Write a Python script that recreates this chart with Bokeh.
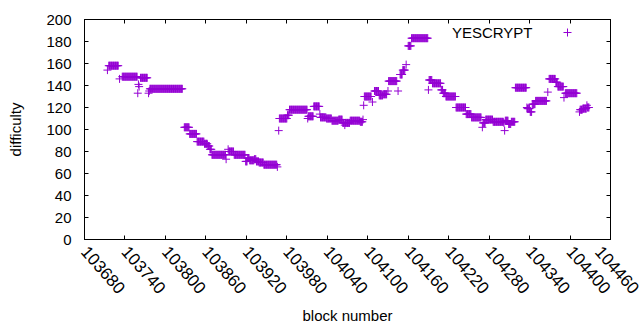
from bokeh.plotting import figure
from bokeh.models import (FixedTicker, LinearAxis, Legend, LegendItem, Label,
                          BasicTickFormatter)
from bokeh.embed import file_html
from bokeh.resources import INLINE

# Runs of consecutive blocks with the same difficulty: start block, end block, value
seg_start = [103714, 103716, 103732, 103736, 103759, 103760, 103761, 103763, 103775, 103776,
             103777, 103828, 103836, 103847, 103858, 103863, 103866, 103869, 103890, 103893,
             103894, 103902, 103919, 103922, 103925, 103932, 103935, 103939, 103946, 103966,
             103968, 103969, 103981, 103984, 104011, 104012, 104020, 104029, 104030, 104039,
             104047, 104057, 104063, 104066, 104067, 104074, 104089, 104093, 104094, 104095,
             104107, 104110, 104117, 104123, 104130, 104131, 104145, 104148, 104152, 104157,
             104160, 104165, 104190, 104191, 104196, 104209, 104212, 104216, 104231, 104246,
             104254, 104270, 104271, 104275, 104286, 104302, 104303, 104304, 104309, 104313,
             104319, 104336, 104337, 104341, 104344, 104349, 104367, 104369, 104379, 104382,
             104391, 104393, 104414, 104415, 104419, 104425, 104426]
seg_end = [103714, 103730, 103732, 103758, 103759, 103760, 103761, 103773, 103775, 103776,
           103825, 103835, 103846, 103857, 103862, 103865, 103868, 103889, 103890, 103893,
           103901, 103918, 103921, 103924, 103931, 103934, 103938, 103945, 103965, 103966,
           103968, 103980, 103983, 104010, 104011, 104019, 104028, 104029, 104038, 104046,
           104056, 104062, 104065, 104066, 104073, 104088, 104092, 104093, 104094, 104105,
           104107, 104116, 104122, 104128, 104130, 104143, 104145, 104151, 104155, 104157,
           104164, 104189, 104190, 104195, 104208, 104211, 104215, 104230, 104245, 104253,
           104268, 104270, 104274, 104285, 104301, 104302, 104303, 104308, 104312, 104318,
           104335, 104336, 104340, 104343, 104348, 104365, 104367, 104378, 104381, 104390,
           104391, 104410, 104414, 104418, 104424, 104425, 104428]
seg_value = [154, 158, 146, 148, 133, 141, 139, 147, 133, 135,
             137, 102, 96, 89, 87, 85, 82, 77, 73, 82,
             80, 77, 71, 74, 72, 73, 71, 70, 68, 66,
             99, 110, 113, 118, 110, 112, 121, 114, 111, 110,
             108, 109, 106, 104, 106, 108, 107, 109, 122, 130,
             125, 135, 131, 132, 135, 144, 135, 150, 154, 159,
             176, 183, 136, 145, 142, 136, 133, 130, 120, 114,
             111, 102, 106, 109, 107, 106, 99, 108, 105, 107,
             138, 120, 119, 116, 123, 126, 134, 146, 143, 139,
             129, 133, 116, 118, 119, 122, 120]

x_ticks = [103680, 103740, 103800, 103860, 103920, 103980, 104040, 104100,
           104160, 104220, 104280, 104340, 104400, 104460]
y_ticks = [0, 20, 40, 60, 80, 100, 120, 140, 160, 180, 200]
series_name = "YESCRYPT"

blocks, diffs = [], []
for s, e, v in zip(seg_start, seg_end, seg_value):
    for b in range(s, e + 1):
        blocks.append(b)
        diffs.append(v)

FONT = "Liberation Sans"
FS = "15px"
COLOR = "#9400D3"

p = figure(width=640, height=330, x_range=(103680, 104460), y_range=(0, 200),
           output_backend="svg", toolbar_location=None,
           min_border_left=84, min_border_right=30, min_border_top=19,
           min_border_bottom=91)
p.xgrid.visible = False
p.ygrid.visible = False
p.outline_line_color = "black"
p.outline_line_width = 1
p.background_fill_color = "white"
p.border_fill_color = "white"

r = p.scatter(blocks, diffs, marker="cross", size=8, line_color=COLOR,
              line_width=1)

for ax in (p.xaxis[0], p.yaxis[0]):
    ax.major_tick_in = 4
    ax.major_tick_out = 0
    ax.minor_tick_line_color = None
    ax.axis_line_color = "black"
    ax.major_label_text_font = FONT
    ax.major_label_text_font_size = FS
    ax.major_label_text_color = "black"
    ax.axis_label_text_font = FONT
    ax.axis_label_text_font_size = FS
    ax.axis_label_text_font_style = "normal"
    ax.axis_label_text_color = "black"

p.xaxis.ticker = FixedTicker(ticks=x_ticks)
p.xaxis.formatter = BasicTickFormatter(use_scientific=False)
p.xaxis.major_label_orientation = -0.85
p.xaxis.major_label_text_font_size = "17px"
p.xaxis.major_label_standoff = 9
p.xaxis.axis_label = "block number"
p.xaxis.axis_label_standoff = 5

p.yaxis.ticker = FixedTicker(ticks=y_ticks)
p.yaxis.major_label_standoff = 13
p.yaxis.axis_label = "difficulty"
p.yaxis.axis_label_standoff = 19

top = LinearAxis(ticker=FixedTicker(ticks=x_ticks), major_tick_in=4, major_tick_out=0,
                 minor_tick_line_color=None, major_label_text_color=None,
                 major_label_text_font_size="1px",
                 axis_line_color="black", major_label_standoff=0)
right = LinearAxis(ticker=FixedTicker(ticks=y_ticks), major_tick_in=4, major_tick_out=0,
                   minor_tick_line_color=None, major_label_text_color=None,
                   major_label_text_font_size="1px",
                   axis_line_color="black", major_label_standoff=0)
p.add_layout(top, "above")
p.add_layout(right, "right")

# gnuplot-style key: title text, then the sample marker to its right
key_text = Label(x=448, y=207, x_units="screen", y_units="screen", text=series_name,
                 text_align="right", text_baseline="middle", text_font=FONT,
                 text_font_size="15px", text_color="black")
p.add_layout(key_text)

legend = Legend(items=[LegendItem(label=" ", renderers=[r])],
                location=(473, 197), padding=0, margin=0, spacing=0,
                glyph_width=20, glyph_height=20, label_standoff=0,
                label_text_font=FONT, label_text_font_size="15px",
                background_fill_alpha=0, border_line_color=None)
p.add_layout(legend, "center")

open("out.html", "w").write(file_html(p, INLINE))
